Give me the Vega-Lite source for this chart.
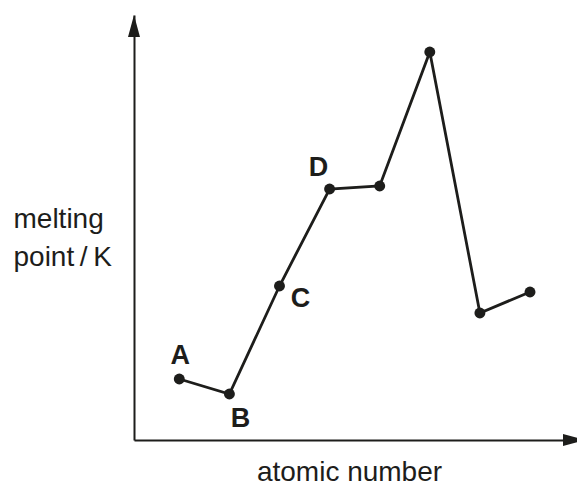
{
  "$schema": "https://vega.github.io/schema/vega-lite/v6.json",
  "width": 443,
  "height": 425,
  "autosize": {"type": "none"},
  "padding": {"left": 134, "top": 15, "right": 0, "bottom": 45},
  "background": "white",
  "config": {"view": {"stroke": null}, "font": "Liberation Sans"},
  "datasets": {
    "points": [
      {"atomic": 1, "mp": 61, "label": "A"},
      {"atomic": 2, "mp": 46, "label": "B"},
      {"atomic": 3, "mp": 154, "label": "C"},
      {"atomic": 4, "mp": 251, "label": "D"},
      {"atomic": 5, "mp": 254, "label": ""},
      {"atomic": 6, "mp": 388, "label": ""},
      {"atomic": 7, "mp": 127, "label": ""},
      {"atomic": 8, "mp": 148, "label": ""}
    ],
    "arrows": [
      {"atomic": 0.096, "mp": 425, "axis": "y"},
      {"atomic": 8.938, "mp": 0, "axis": "x"}
    ]
  },
  "encoding": {
    "x": {
      "field": "atomic", "type": "quantitative",
      "scale": {"domain": [0.096, 8.938], "nice": false, "zero": false},
      "axis": {
        "title": "atomic number", "titleFontSize": 28, "titleFontWeight": "normal", "titleColor": "#1d1d1b",
        "titleX": 215, "titleY": 40, "titleBaseline": "alphabetic", "titleAnchor": "middle", "titleAlign": "center",
        "labels": false, "ticks": false, "grid": false,
        "domainColor": "#1d1d1b", "domainWidth": 2
      }
    },
    "y": {
      "field": "mp", "type": "quantitative",
      "scale": {"domain": [0, 425], "nice": false},
      "axis": {
        "title": ["melting", "point\u2009/\u2009K"], "titleFontSize": 28, "titleFontWeight": "normal", "titleColor": "#1d1d1b",
        "titleAngle": 0, "titleX": -121, "titleY": 212, "titleAlign": "left", "titleBaseline": "alphabetic",
        "titleLineHeight": 38,
        "labels": false, "ticks": false, "grid": false,
        "domainColor": "#1d1d1b", "domainWidth": 2
      }
    }
  },
  "layer": [
    {
      "data": {"name": "points"},
      "mark": {"type": "line", "color": "#1d1d1b", "strokeWidth": 2.8}
    },
    {
      "data": {"name": "points"},
      "mark": {"type": "point", "filled": true, "shape": "circle", "size": 120, "color": "#1d1d1b", "opacity": 1}
    },
    {
      "data": {"name": "points"},
      "transform": [{"filter": "datum.label === 'A'"}],
      "mark": {"type": "text", "fontSize": 27, "fontWeight": "bold", "color": "#1d1d1b", "align": "center", "baseline": "alphabetic", "dx": 1, "dy": -15},
      "encoding": {"text": {"field": "label"}}
    },
    {
      "data": {"name": "points"},
      "transform": [{"filter": "datum.label === 'B'"}],
      "mark": {"type": "text", "fontSize": 27, "fontWeight": "bold", "color": "#1d1d1b", "align": "center", "baseline": "alphabetic", "dx": 11, "dy": 33},
      "encoding": {"text": {"field": "label"}}
    },
    {
      "data": {"name": "points"},
      "transform": [{"filter": "datum.label === 'C'"}],
      "mark": {"type": "text", "fontSize": 27, "fontWeight": "bold", "color": "#1d1d1b", "align": "center", "baseline": "alphabetic", "dx": 21, "dy": 21},
      "encoding": {"text": {"field": "label"}}
    },
    {
      "data": {"name": "points"},
      "transform": [{"filter": "datum.label === 'D'"}],
      "mark": {"type": "text", "fontSize": 27, "fontWeight": "bold", "color": "#1d1d1b", "align": "center", "baseline": "alphabetic", "dx": -11, "dy": -13},
      "encoding": {"text": {"field": "label"}}
    },
    {
      "data": {"name": "arrows"},
      "transform": [{"filter": "datum.axis === 'y'"}],
      "mark": {"type": "point", "filled": true, "size": 484, "color": "#1d1d1b", "opacity": 1, "clip": false,
               "shape": "M0,0L0.545,2L-0.545,2Z"}
    },
    {
      "data": {"name": "arrows"},
      "transform": [{"filter": "datum.axis === 'x'"}],
      "mark": {"type": "point", "filled": true, "size": 484, "color": "#1d1d1b", "opacity": 1, "clip": false,
               "shape": "M-1.273,-0.545L0,-0.198L0,0.198L-1.273,0.545Z"}
    }
  ]
}
